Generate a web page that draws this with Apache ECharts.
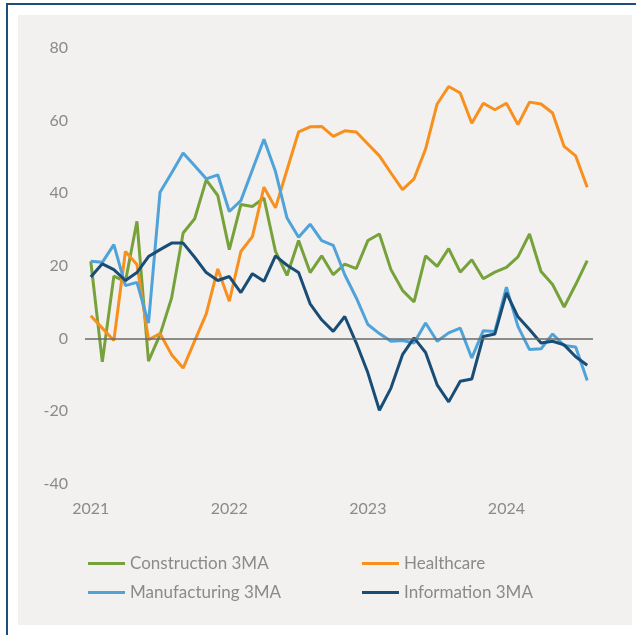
<!DOCTYPE html>
<html>
<head>
<meta charset="utf-8">
<script src="https://cdn.jsdelivr.net/npm/echarts@6/dist/echarts.min.js"></script>
<style>
  body { margin: 0; background: #fff; }
  .frame {
    position: absolute; left: 6px; top: 3px; width: 640px; height: 640px;
    border-left: 2px solid #1f4e79; border-top: 2px solid #1f4e79;
  }
  .panel {
    position: absolute; left: 18px; top: 15px; width: 614px; height: 610px;
    background: #f2f1ef;
  }
  #chart { position: absolute; left: 0; top: 0; width: 636px; height: 635px; }
</style>
</head>
<body>
<div class="frame"></div>
<div class="panel"></div>
<div id="chart"></div>
<script>
// monthly categories Jan 2021 - Aug 2024
const years = [2021, 2022, 2023, 2024];
const months = [];
years.forEach(y => {
  for (let m = 1; m <= 12; m++) {
    if (y === 2024 && m > 8) break;
    months.push(y + '-' + String(m).padStart(2, '0'));
  }
});
const xTickLabels = ['2021', '2022', '2023', '2024'];
const yTicks = [-40, -20, 0, 20, 40, 60, 80];

const construction = [21.3, -6.4, 17.2, 15.7, 32.3, -6.2, 1.1, 11.2, 29.1, 33.0, 43.7, 39.4,
  24.5, 36.9, 36.4, 38.7, 24.0, 17.4, 27.0, 18.2, 22.8, 17.6, 20.5, 19.3,
  27.0, 28.8, 19.0, 13.3, 10.1, 22.8, 19.9, 24.8, 18.3, 21.7, 16.5, 18.3,
  19.6, 22.5, 28.8, 18.5, 14.9, 8.7, 14.9, 21.5];
const healthcare = [6.3, 2.9, -0.5, 24.0, 20.4, -0.3, 1.4, -4.4, -8.1, -0.6, 6.8, 19.2,
  10.3, 24.0, 28.1, 41.7, 36.0, 46.5, 56.9, 58.3, 58.4, 55.7, 57.2, 56.9,
  53.6, 50.3, 45.6, 41.0, 44.0, 52.2, 64.6, 69.4, 67.6, 59.3, 64.8, 63.0,
  64.8, 58.9, 65.1, 64.6, 62.1, 52.9, 50.3, 41.7];
const manufacturing = [21.3, 21.0, 25.9, 14.6, 15.5, 4.3, 40.3, 45.6, 51.1, 47.6, 44.0, 45.1,
  35.0, 38.0, 46.5, 54.9, 46.0, 33.2, 27.9, 31.5, 27.0, 25.7, 17.6, 11.2,
  3.9, 1.4, -0.7, -0.5, -1.2, 4.3, -0.7, 1.6, 2.9, -5.3, 2.2, 2.0,
  14.2, 3.4, -3.0, -2.8, 1.3, -1.9, -2.3, -11.5];
const information = [17.0, 20.6, 19.0, 16.0, 18.2, 22.6, 24.5, 26.3, 26.3, 22.4, 18.2, 16.0,
  17.1, 12.7, 17.9, 15.8, 22.8, 20.2, 18.2, 9.6, 5.2, 2.0, 6.1, -1.2,
  -9.4, -19.7, -13.6, -4.4, 0.2, -3.8, -12.7, -17.4, -11.7, -11.1, 0.6, 1.3,
  12.6, 6.0, 2.5, -1.2, -0.7, -1.7, -5.0, -7.3];

const seriesNames = ['Construction 3MA', 'Healthcare', 'Manufacturing 3MA', 'Information 3MA'];
const seriesColors = ['#77a23b', '#f7901e', '#4fa3d9', '#1a4d76'];
const seriesData = [construction, healthcare, manufacturing, information];

const textColor = '#8a8a8a';
const fontFamily = 'Lato, "Open Sans", sans-serif';

const chart = echarts.init(document.getElementById('chart'));

// legend laid out as 2x2 grid
const legendPos = [
  { left: 88, top: 555 },
  { left: 362, top: 555 },
  { left: 88, top: 584 },
  { left: 362, top: 584 }
];

const option = {
  backgroundColor: 'transparent',
  animation: false,
  grid: { left: 85, right: 43, top: 48, bottom: 151 },
  legend: seriesNames.map((n, i) => ({
    data: [n],
    left: legendPos[i].left,
    top: legendPos[i].top,
    padding: 0,
    icon: 'rect',
    itemWidth: 37,
    itemHeight: 3,
    itemGap: 0,
    textStyle: { color: textColor, fontSize: 17, fontFamily: fontFamily }
  })),
  xAxis: {
    type: 'category',
    data: months,
    boundaryGap: true,
    axisLine: { show: false, onZero: false },
    axisTick: { show: false },
    axisLabel: {
      color: textColor,
      fontSize: 16,
      fontFamily: fontFamily,
      margin: 17,
      interval: (idx) => idx % 12 === 0,
      formatter: (val, idx) => xTickLabels[Math.floor(idx / 12)]
    },
    splitLine: { show: false }
  },
  yAxis: {
    type: 'value',
    min: yTicks[0],
    max: yTicks[yTicks.length - 1],
    interval: 20,
    axisLine: { show: false },
    axisTick: { show: false },
    splitLine: { show: false },
    axisLabel: { color: textColor, fontSize: 16, fontFamily: fontFamily, margin: 17 }
  },
  series: seriesNames.map((n, i) => {
    const s = {
      name: n,
      type: 'line',
      data: seriesData[i],
      symbol: 'none',
      color: seriesColors[i],
      lineStyle: { width: 3, color: seriesColors[i] }
    };
    if (i === 0) {
      // zero reference line
      s.markLine = {
        silent: true,
        symbol: 'none',
        label: { show: false },
        lineStyle: { color: '#6a6a6a', width: 1.5, type: 'solid' },
        data: [{ yAxis: 0 }]
      };
    }
    return s;
  })
};

chart.setOption(option);
</script>
</body>
</html>
